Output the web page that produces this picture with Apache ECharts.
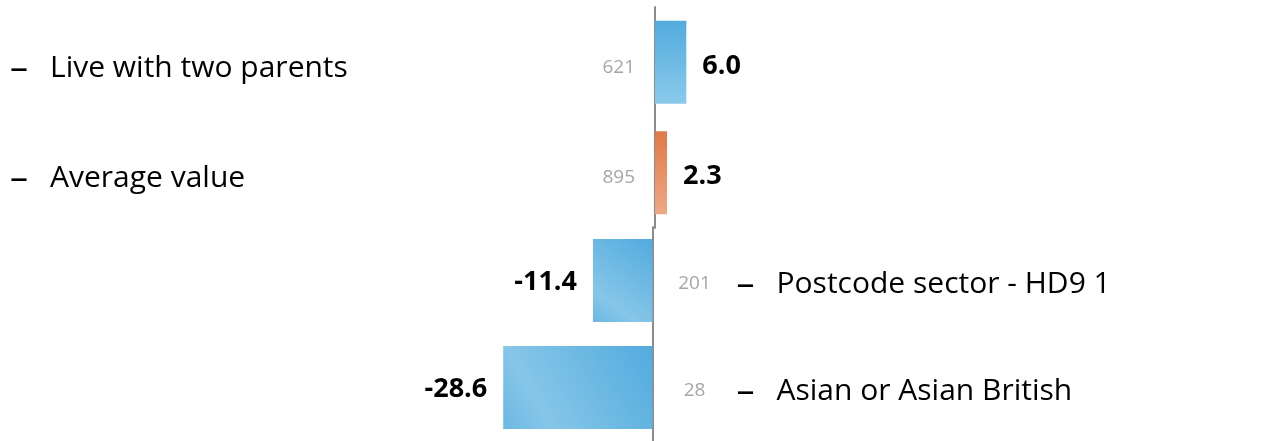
<!DOCTYPE html>
<html>
<head>
<meta charset="utf-8">
<script src="https://cdn.jsdelivr.net/npm/echarts@6/dist/echarts.min.js"></script>
<style>
html,body{margin:0;padding:0;background:#fff;}
#chart{width:1278px;height:441px;}
</style>
</head>
<body>
<div id="chart"></div>
<script>
// ---- data ----
const categories = ['Live with two parents', 'Average value', 'Postcode sector - HD9 1', 'Asian or Asian British'];
const values = [6.0, 2.3, -11.4, -28.6];
const counts = [621, 895, 201, 28];
const averageCategory = 'Average value';

// ---- styles ----
const FONT = "'Open Sans', 'Noto Sans', sans-serif";
const blueV = {type:'linear', x:0, y:0, x2:0, y2:1, colorStops:[{offset:0,color:'#52ABDE'},{offset:1,color:'#8ACAEB'}]};
const blueD = {type:'linear', x:1, y:0, x2:0, y2:1, colorStops:[{offset:0,color:'#52ABDE'},{offset:0.75,color:'#86C6E8'},{offset:1,color:'#6BB8E3'}]};
const orange = {type:'linear', x:0, y:0, x2:0, y2:1, colorStops:[{offset:0,color:'#E07848'},{offset:1,color:'#EFA886'}]};

const groups = [[0, 1], [2, 3]];
const gridDefs = [
  {left: 498.4, width: 313.2, top: 7, height: 221},
  {left: 495.9, width: 313.2, top: 227, height: 219}
];
const textDy = [6, 4];

const grid = [], xAxis = [], yAxis = [], series = [];
groups.forEach((idxs, g) => {
  grid.push(gridDefs[g]);
  xAxis.push({gridIndex: g, type: 'value', min: -30, max: 30, show: false});
  yAxis.push({
    gridIndex: g, type: 'category', inverse: true,
    data: idxs.map(i => categories[i]),
    axisLine: {show: true, onZero: true, lineStyle: {color: '#8C8C8C', width: 2}},
    axisTick: {show: false}, axisLabel: {show: false}, splitLine: {show: false}
  });
  series.push({
    type: 'bar', xAxisIndex: g, yAxisIndex: g, barWidth: 83,
    animation: false,
    data: idxs.map(i => {
      const v = values[i];
      const col = categories[i] === averageCategory ? orange : (v >= 0 ? blueV : blueD);
      return {
        value: v,
        itemStyle: {color: col},
        label: {
          show: true, position: v >= 0 ? 'right' : 'left', distance: 16,
          offset: [0, textDy[g] - 2],
          formatter: p => p.value.toFixed(1),
          fontFamily: FONT, fontWeight: 'bold', fontSize: 27, color: '#000'
        }
      };
    })
  });
  series.push({
    type: 'custom', xAxisIndex: g, yAxisIndex: g, silent: true, animation: false,
    data: idxs.map((i, k) => [values[i], k]),
    renderItem: (params, api) => {
      const i = idxs[params.dataIndex];
      const v = api.value(0);
      const p = api.coord([0, api.value(1)]);
      const y = p[1] + textDy[g];
      const pos = v >= 0;
      const cntX = pos ? p[0] - 20 : p[0] + 42;
      const dashX = pos ? 10 : p[0] + 84;
      return {
        type: 'group',
        children: [
          {type: 'text', x: cntX, y: y - 1, style: {text: String(counts[i]), fill: '#A6A6A6', font: '19px ' + FONT, align: pos ? 'right' : 'center', verticalAlign: 'middle'}},
          {type: 'text', x: dashX, y: y + 1, style: {text: '–', fill: '#000', font: '36px ' + FONT, align: 'left', verticalAlign: 'middle'}},
          {type: 'text', x: pos ? 50 : p[0] + 124, y: y, style: {text: categories[i], fill: '#000', font: '30px ' + FONT, align: 'left', verticalAlign: 'middle'}}
        ]
      };
    }
  });
});

const chart = echarts.init(document.getElementById('chart'));
chart.setOption({animation: false, grid, xAxis, yAxis, series});
</script>
</body>
</html>
